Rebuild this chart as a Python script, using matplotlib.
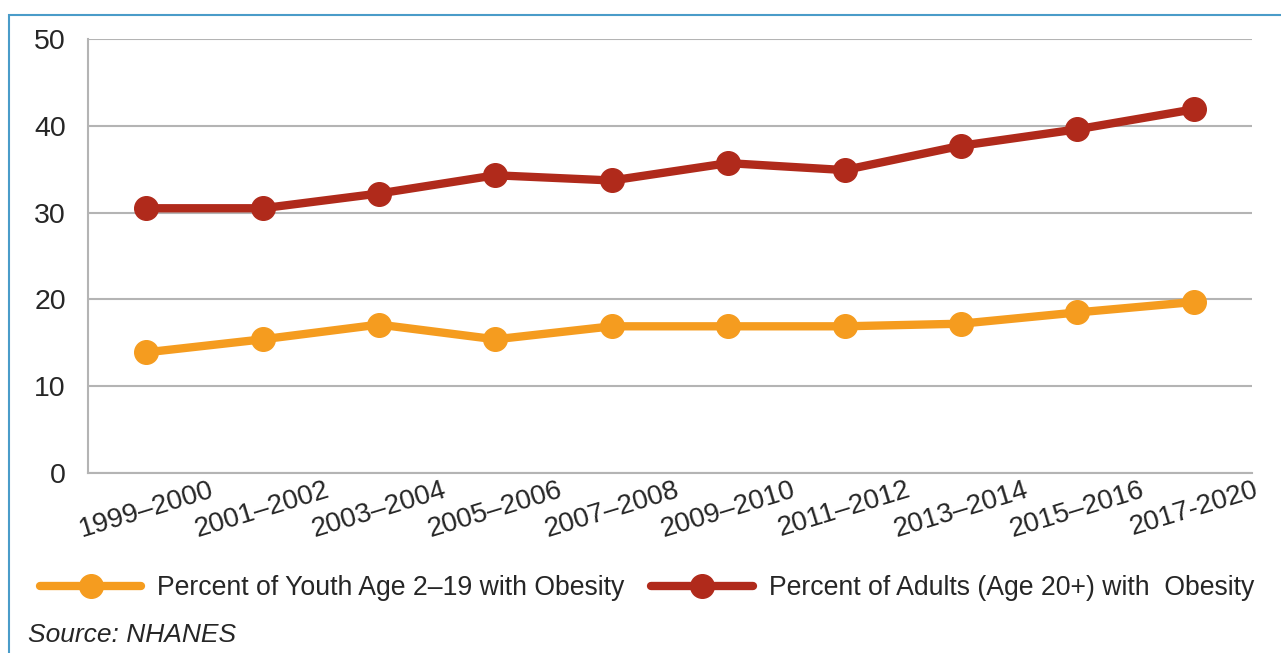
import matplotlib
matplotlib.use("Agg")
import matplotlib.pyplot as plt
from matplotlib.patches import Rectangle

periods = ["1999–2000", "2001–2002", "2003–2004", "2005–2006", "2007–2008",
           "2009–2010", "2011–2012", "2013–2014", "2015–2016", "2017-2020"]
youth = [13.9, 15.4, 17.1, 15.4, 16.9, 16.9, 16.9, 17.2, 18.5, 19.7]
adults = [30.5, 30.5, 32.2, 34.3, 33.7, 35.7, 34.9, 37.7, 39.6, 41.9]
yticks = [0, 10, 20, 30, 40, 50]

font = "Liberation Sans"
orange = "#F59C1F"
red = "#B02A1B"
txt = "#262626"

fig = plt.figure(figsize=(12.81, 6.53), dpi=100)
ax = fig.add_axes([88 / 1281, 1 - 473 / 653, 1164 / 1281, 434 / 653])

x = list(range(len(periods)))
ax.plot(x, youth, color=orange, lw=6, marker="o", ms=17, solid_capstyle="round",
        label="Percent of Youth Age 2–19 with Obesity", zorder=3)
ax.plot(x, adults, color=red, lw=6, marker="o", ms=17, solid_capstyle="round",
        label="Percent of Adults (Age 20+) with  Obesity", zorder=3)

ax.set_xlim(-0.5, len(periods) - 0.5)
ax.set_ylim(0, 50)
ax.set_yticks(yticks)
ax.set_yticklabels([str(v) for v in yticks], fontsize=20.5, color=txt, family=font)
ax.set_xticks(x)
ax.set_xticklabels(periods, rotation=17, ha="center", fontsize=20, color=txt,
                   family=font)
ax.tick_params(axis="both", length=0)
ax.tick_params(axis="y", pad=16)
ax.tick_params(axis="x", pad=3)
ax.grid(axis="y", color="#b4b4b4", lw=1.5)
ax.set_axisbelow(True)
for s in ["top", "right"]:
    ax.spines[s].set_visible(False)
for s in ["left", "bottom"]:
    ax.spines[s].set_color("#b4b4b4")
    ax.spines[s].set_linewidth(1.5)

leg = fig.legend(loc="center left", bbox_to_anchor=(40 / 1281, 1 - 588 / 653),
                 ncol=2, frameon=False, handlelength=3.8, columnspacing=1.0,
                 handletextpad=0.6, borderaxespad=0, borderpad=0,
                 prop={"family": font, "size": 19.2})
for t in leg.get_texts():
    t.set_color(txt)

fig.text(28 / 1281, 1 - 635 / 653, "Source: NHANES", fontsize=19, style="italic",
         color=txt, family=font, va="center")

fig.patches.append(Rectangle((9 / 1281, -0.1), 1.2, 1 - 15 / 653 + 0.1,
                             transform=fig.transFigure, fill=False,
                             edgecolor="#4A9CC9", lw=1.5))

fig.savefig("out.png", dpi=100)
